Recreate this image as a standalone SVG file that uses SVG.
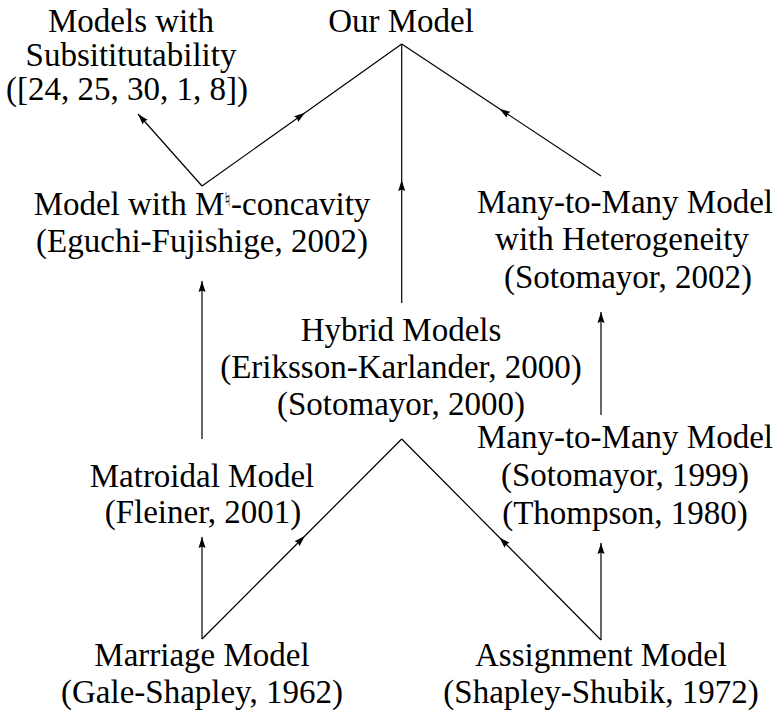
<svg xmlns="http://www.w3.org/2000/svg" width="777" height="717" viewBox="0 0 777 717">
<defs>
<style>
text{font-family:"Liberation Serif","Times New Roman",serif;font-size:33px;fill:#000;text-anchor:middle}
.nat{font-family:"DejaVu Sans",sans-serif;font-size:19px}
.c path{fill:none;stroke:#000;stroke-width:1.2}
</style>
<marker id="ah" markerUnits="userSpaceOnUse" viewBox="0 0 11 8" refX="11" refY="4" markerWidth="11" markerHeight="8" orient="auto">
<path d="M0,0.5 L11,4 L0,7.5 L1.5,4 z" fill="#000"/>
</marker>
</defs>
<rect width="777" height="717" fill="#fff"/>
<g class="c" id="connectors">
<path d="M202,186 L305,112.8 L401.7,44" marker-mid="url(#ah)"/>
<path d="M202,186 L138,114" marker-end="url(#ah)"/>
<path d="M601,176 L499.4,108.7 L401.7,44" marker-mid="url(#ah)"/>
<path d="M401.7,303 L401.7,180 L401.7,44" marker-mid="url(#ah)"/>
<path d="M202,439 L202,281" marker-end="url(#ah)"/>
<path d="M601,415 L601,312" marker-end="url(#ah)"/>
<path d="M202,639 L304.8,536 L401.7,439" marker-mid="url(#ah)"/>
<path d="M601,640 L499.4,537.5 L401.7,439" marker-mid="url(#ah)"/>
<path d="M202,639 L202,537" marker-end="url(#ah)"/>
<path d="M601,640 L601,543" marker-end="url(#ah)"/>
</g>
<g id="our-model"><text x="401" y="32">Our Model</text></g>
<g id="substitutability">
<text x="131" y="32">Models with</text>
<text x="131" y="66">Subsititutability</text>
<text x="127" y="100">([24, 25, 30, 1, 8])</text>
</g>
<g id="m-natural">
<text x="202" y="215">Model with M<tspan class="nat" dy="-9">♮</tspan><tspan dy="9">-concavity</tspan></text>
<text x="202" y="252">(Eguchi-Fujishige, 2002)</text>
</g>
<g id="heterogeneity">
<text x="625" y="213">Many-to-Many Model</text>
<text x="622" y="250">with Heterogeneity</text>
<text x="628" y="288">(Sotomayor, 2002)</text>
</g>
<g id="hybrid">
<text x="401" y="341">Hybrid Models</text>
<text x="401" y="378">(Eriksson-Karlander, 2000)</text>
<text x="401" y="415">(Sotomayor, 2000)</text>
</g>
<g id="many-to-many">
<text x="625" y="448">Many-to-Many Model</text>
<text x="625" y="486">(Sotomayor, 1999)</text>
<text x="625" y="524">(Thompson, 1980)</text>
</g>
<g id="matroidal">
<text x="202" y="487">Matroidal Model</text>
<text x="203" y="523">(Fleiner, 2001)</text>
</g>
<g id="marriage">
<text x="202" y="666">Marriage Model</text>
<text x="202" y="703">(Gale-Shapley, 1962)</text>
</g>
<g id="assignment">
<text x="601" y="666">Assignment Model</text>
<text x="601" y="703">(Shapley-Shubik, 1972)</text>
</g>
</svg>
